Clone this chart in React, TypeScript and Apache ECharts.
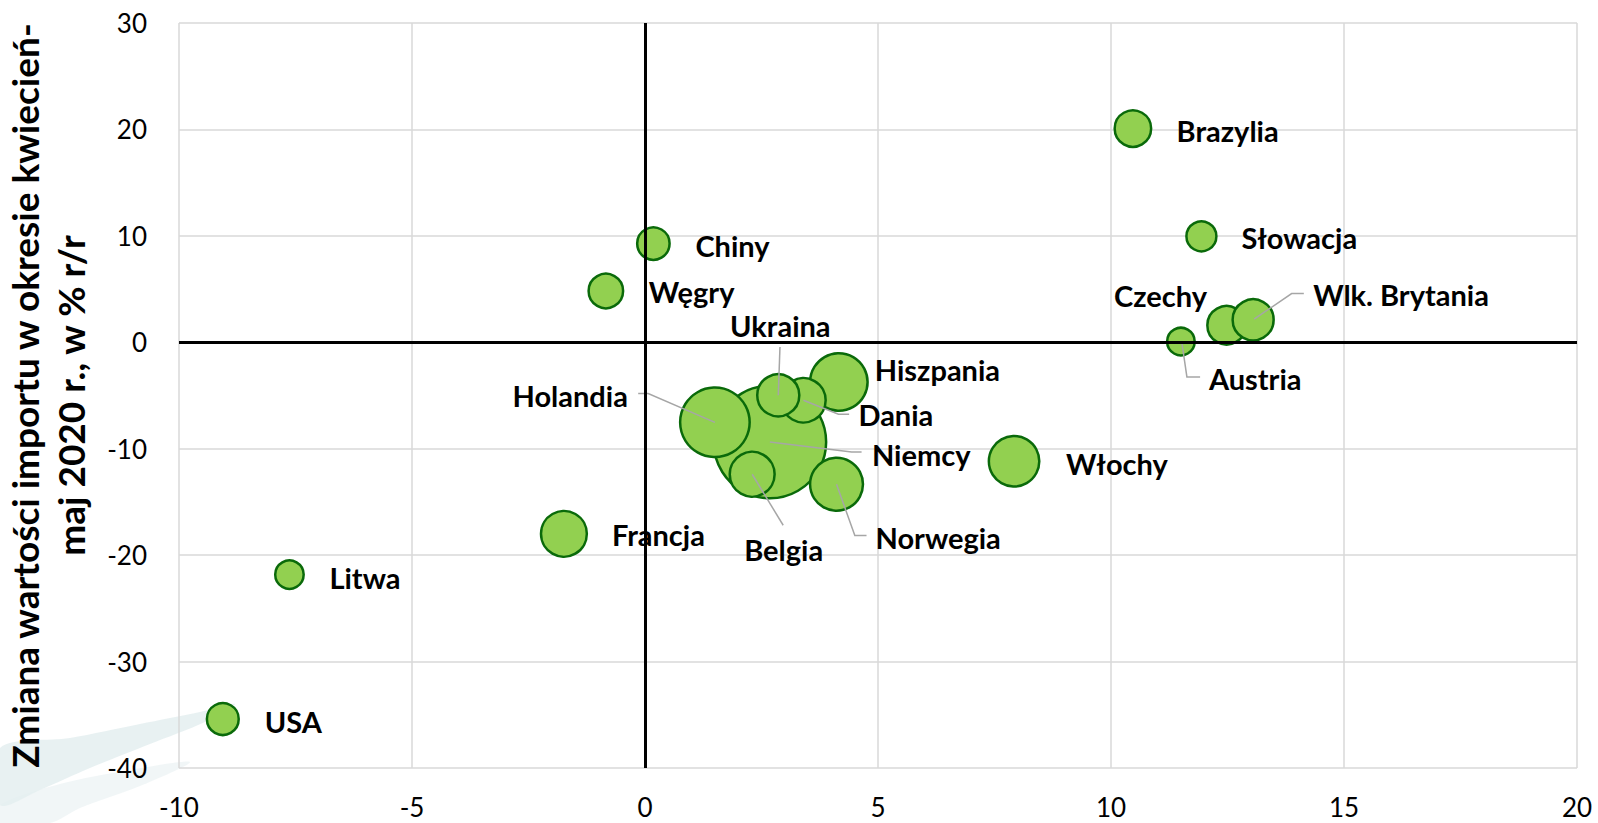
import React, { useEffect, useRef } from "react";
import * as echarts from "echarts";

// ---- data ----
const countries = [
  "Niemcy", "Holandia", "Hiszpania", "Dania", "Ukraina", "Belgia", "Norwegia",
  "Włochy", "Francja", "Czechy", "Wlk. Brytania", "Austria", "Brazylia",
  "Słowacja", "Chiny", "Węgry", "Litwa", "USA",
];
const xValues = [2.68, 1.5, 4.16, 3.4, 2.86, 2.3, 4.11, 7.92, -1.74, 12.48, 13.05, 11.5, 10.47, 11.94, 0.18, -0.84, -7.63, -9.06];
const yValues = [-9.37, -7.52, -3.73, -5.45, -4.98, -12.4, -13.34, -11.18, -18.0, 1.6, 2.11, 0.07, 20.08, 9.96, 9.28, 4.82, -21.83, -35.4];
const bubbleSizes = [100, 38.2, 26.1, 15.6, 14.0, 15.9, 22.1, 20.1, 16.6, 11.7, 13.3, 6.0, 10.5, 7.1, 8.3, 9.4, 6.4, 8.0];

const xTicks = { min: -10, max: 20, interval: 5 };
const yTicks = { min: -40, max: 30, interval: 10 };
const yTitle = "Zmiana wartości importu w okresie kwiecień-\nmaj 2020 r., w % r/r";

// ---- label placement (pixel offsets from each bubble centre) ----
type Lay = { dx: number; dy: number; align?: string; leader?: number[][] };
const labelLayout: Record<string, Lay> = {
  Niemcy: { dx: 102, dy: 12, leader: [[0, 0], [81.7, 10], [91.7, 10]] },
  Holandia: { dx: -87, dy: -27, align: "right", leader: [[0, 0], [-66.7, -28.7], [-76.7, -28.7]] },
  Hiszpania: { dx: 36, dy: -12 },
  Dania: { dx: 55, dy: 14, leader: [[0, 0], [35, 14], [45.7, 14]] },
  Ukraina: { dx: 2, dy: -70, align: "center", leader: [[0, 0], [1.7, -48.3]] },
  Belgia: { dx: 31.5, dy: 75.6, align: "center", leader: [[0, 0], [31, 51]] },
  Norwegia: { dx: 39, dy: 53, leader: [[0, 0], [18.3, 51.3], [30, 51.3]] },
  "Włochy": { dx: 52, dy: 2 },
  Francja: { dx: 48, dy: 1 },
  Czechy: { dx: -19.6, dy: -30, align: "right" },
  "Wlk. Brytania": { dx: 60, dy: -25, leader: [[1, -0.7], [38.5, -26.3], [50.7, -26.3]] },
  Austria: { dx: 28, dy: 37, leader: [[1, 1.4], [6, 35.4], [19.2, 35.4]] },
  Brazylia: { dx: 43.7, dy: 2 },
  "Słowacja": { dx: 40.2, dy: 1 },
  Chiny: { dx: 42, dy: 2 },
  "Węgry": { dx: 43, dy: 1 },
  Litwa: { dx: 40, dy: 3 },
  USA: { dx: 42, dy: 2 },
};

const FONT = "Lato, 'Open Sans', sans-serif";

export default function App() {
  const ref = useRef<HTMLDivElement>(null);
  useEffect(() => {
    if (!ref.current) return;
    const chart = echarts.init(ref.current, null, { renderer: "svg" });
    const points = countries.map((name, i) => ({ name, value: [xValues[i], yValues[i], bubbleSizes[i]] }));
    chart.setOption({
      animation: false,
      backgroundColor: "#ffffff",
      // faint watermark swoosh in the lower-left corner
      graphic: [
        {
          type: "polygon",
          z: -10,
          silent: true,
          shape: {
            points: [[0, 748], [70, 738], [140, 724], [200, 712], [235, 704], [205, 722], [150, 744], [90, 768], [40, 790], [0, 805]],
            smooth: 0.3,
          },
          style: { fill: "#e4eef0", opacity: 0.85 },
        },
        {
          type: "polygon",
          z: -11,
          silent: true,
          shape: {
            points: [[0, 805], [60, 784], [130, 770], [190, 762], [140, 786], [80, 808], [50, 823], [0, 823]],
            smooth: 0.3,
          },
          style: { fill: "#f0f5f6", opacity: 0.9 },
        },
      ],
      grid: { left: 179, top: 23, right: 21, bottom: 55, containLabel: false, outerBoundsMode: "none" },
      xAxis: {
        type: "value",
        min: xTicks.min,
        max: xTicks.max,
        interval: xTicks.interval,
        axisLine: { show: false },
        axisTick: { show: false },
        axisLabel: { color: "#000", fontFamily: FONT, fontSize: 26, margin: 26 },
        splitLine: { show: true, lineStyle: { color: "#d9d9d9", width: 1.5 } },
      },
      yAxis: {
        type: "value",
        min: yTicks.min,
        max: yTicks.max,
        interval: yTicks.interval,
        axisLine: { show: false },
        axisTick: { show: false },
        axisLabel: { color: "#000", fontFamily: FONT, fontSize: 26, margin: 32 },
        splitLine: { show: true, lineStyle: { color: "#d9d9d9", width: 1.5 } },
        name: yTitle,
        nameLocation: "middle",
        nameRotate: 90,
        nameGap: 86,
        nameTextStyle: { color: "#000", fontFamily: FONT, fontSize: 37, fontWeight: "bold", lineHeight: 46 },
      },
      series: [
        {
          type: "scatter",
          z: 1,
          data: [],
          silent: true,
          markLine: {
            silent: true,
            symbol: "none",
            label: { show: false },
            lineStyle: { color: "#000", width: 3, type: "solid" },
            data: [{ xAxis: 0 }, { yAxis: 0 }],
          },
        },
        {
          type: "scatter",
          z: 2,
          data: points,
          symbol: "circle",
          symbolSize: (v: number[]) => 112.5 * Math.sqrt(v[2] / 100),
          itemStyle: { color: "#92D050", borderColor: "#0A6A0A", borderWidth: 2.5, opacity: 1 },
          silent: true,
        },
        {
          type: "custom",
          z: 3,
          silent: true,
          data: points.map((p) => p.value),
          renderItem: (params: any, api: any) => {
            const i = params.dataIndex;
            const name = countries[i];
            const lay = labelLayout[name];
            const c = api.coord([api.value(0), api.value(1)]);
            const children: any[] = [];
            if (lay.leader) {
              children.push({
                type: "polyline",
                shape: { points: lay.leader.map((q) => [c[0] + q[0], c[1] + q[1]]) },
                style: { stroke: "#a6a6a6", lineWidth: 1.5, fill: null },
              });
            }
            children.push({
              type: "text",
              x: c[0] + lay.dx,
              y: c[1] + lay.dy,
              style: {
                text: name,
                fill: "#000",
                fontFamily: FONT,
                fontSize: 29,
                fontWeight: "bold",
                align: lay.align || "left",
                verticalAlign: "middle",
              },
            });
            return { type: "group", children };
          },
        },
      ],
    });
    return () => chart.dispose();
  }, []);
  return (
    <div
      ref={ref}
      style={{ position: "fixed", left: 0, top: 0, width: 1598, height: 823, background: "#fff" }}
    />
  );
}
